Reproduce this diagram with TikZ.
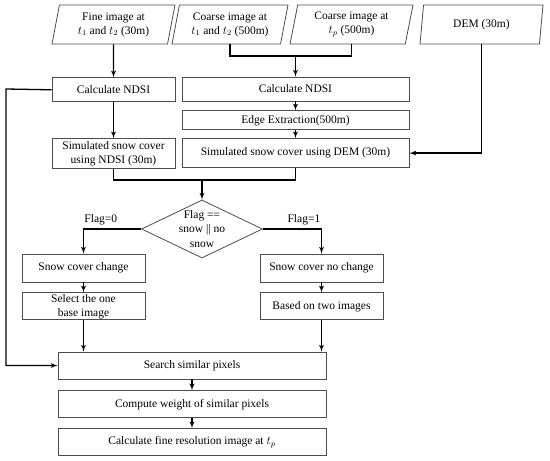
\documentclass[tikz,border=0pt]{standalone}
\usepackage{fontspec}
\setmainfont{Liberation Serif}
\usepackage{tikz}
\usetikzlibrary{shapes.geometric, arrows, positioning}

\begin{document}
\begin{tikzpicture}[x=1pt, y=-1pt, font=\fontsize{11.5}{14}\selectfont]
\tikzstyle{process} = [rectangle, draw=black!70, fill=white, align=center, inner sep=1pt, minimum width=123pt, minimum height=27pt, line width=0.8pt]
\tikzstyle{wide} = [process, minimum width=227pt]
\tikzstyle{final} = [process, minimum width=268pt]
\tikzstyle{io} = [trapezium, trapezium left angle=74, trapezium right angle=106, trapezium stretches body, draw=black!70, align=center, inner sep=1pt, minimum width=123pt, minimum height=39pt, line width=0.8pt]
\tikzstyle{decision} = [diamond, draw=black!70, minimum width=121pt, minimum height=58pt, inner sep=0pt, line width=0.8pt]
\tikzstyle{line} = [draw, -latex', line width=1.3pt, black]
\tikzstyle{link} = [draw, line width=1.3pt, black]

\useasboundingbox (0,0) rectangle (550,461);

% inputs
\node (fine) [io] at (113.5,24.5) {Fine image at\\$t_1$ and $t_2$ (30m)};
\node (coarse) [io, minimum width=116pt] at (230,24.5) {Coarse image at\\$t_1$ and $t_2$ (500m)};
\node (coarsep) [io] at (351.5,24.5) {Coarse image at\\$t_p$ (500m)};
\node (dem) [io] at (481.5,24.5) {DEM (30m)};

% NDSI and snow cover
\node (ndsifine) [process, minimum height=24pt, below=33pt of fine] {Calculate NDSI};
\node (simfine) [process, minimum height=30pt, below=36pt of ndsifine] {Simulated snow cover\\using NDSI (30m)};
\node (ndsicoarse) [wide, minimum height=24pt] at (295.5,89) {Calculate NDSI};
\node (edge) [wide, minimum height=19pt, below=9pt of ndsicoarse] {Edge Extraction(500m)};
\node (simdem) [wide, minimum height=29pt, below=8pt of edge] {Simulated snow cover using DEM (30m)};

% decision
\node (flag) [decision, label={[align=center, font=\fontsize{11.5}{14.5}\selectfont]center:Flag ==\\snow || no\\snow}] at (202,229) {};
\node (change) [process, minimum height=28pt] at (83.5,268) {Snow cover change};
\node (base) [process, below=10pt of change] {Select the one\\base image};
\node (nochange) [process, minimum height=28pt] at (321.5,268) {Snow cover no change};
\node (two) [process, below=10pt of nochange] {Based on two images};

% prediction
\node (search) [final] at (192,365.5) {Search similar pixels};
\node (weight) [final, below=11pt of search] {Compute weight of similar pixels};
\node (predict) [final, below=10pt of weight] {Calculate fine resolution image at $t_p$};

\coordinate (cjoin) at (295.5,56);
\coordinate (sjoin) at (202,180);
\coordinate (back) at (6,89);

\draw [line] (fine) -- (ndsifine);
\draw [line] (ndsifine) -- (simfine);
\draw [link] (coarse.south) |- (cjoin) -| (coarsep.south);
\draw [line] (cjoin) -- (ndsicoarse);
\draw [line] (ndsicoarse) -- (edge);
\draw [line] (edge) -- (simdem);
\draw [line] (dem.south) |- (simdem.east);
\draw [link] (simfine.south) |- (sjoin) -| (simdem.south);
\draw [line] (sjoin) -- (flag.north);
\draw [line] (flag.west) -| node[pos=0.35, above] {Flag=0} (change.north);
\draw [line] (flag.east) -| node[pos=0.35, above] {Flag=1} (nochange.north);
\draw [line] (change) -- (base);
\draw [line] (nochange) -- (two);
\draw [line] (base.south) -- (base.south |- search.north);
\draw [line] (two.south) -- (two.south |- search.north);
\draw [line] (ndsifine.west) -- (back) |- (search.west);
\draw [line] (search) -- (weight);
\draw [line] (weight) -- (predict);
\end{tikzpicture}
\end{document}
